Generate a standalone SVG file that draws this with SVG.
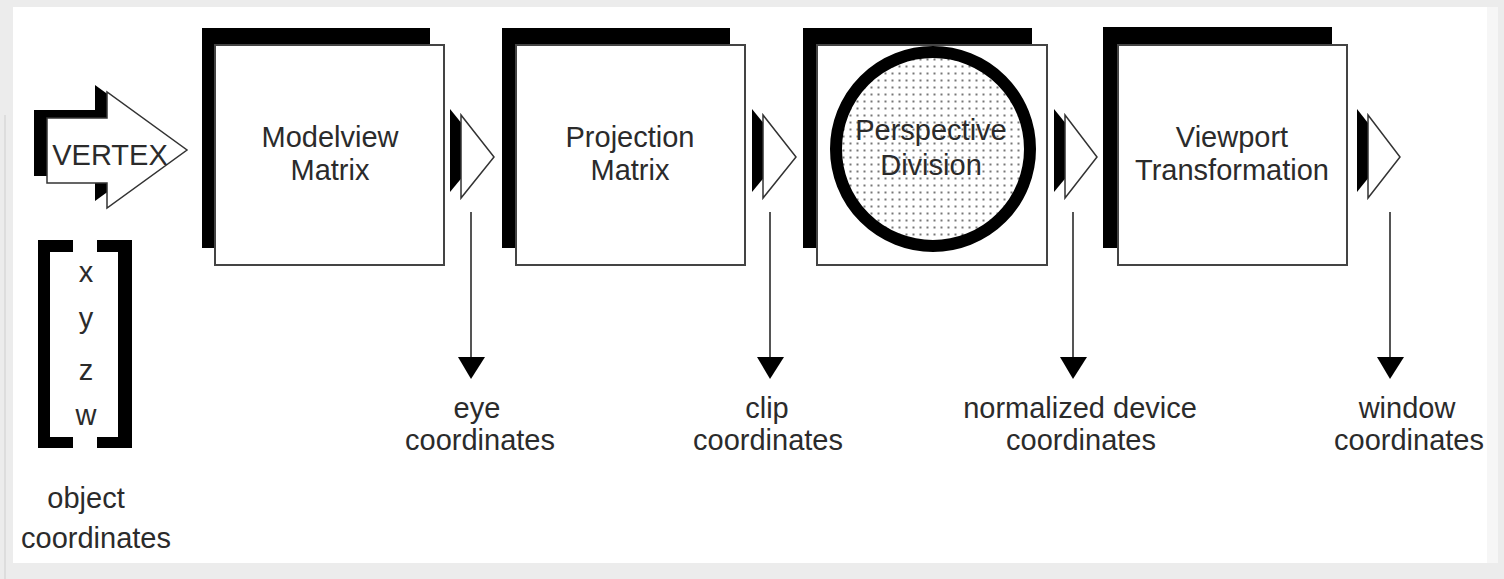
<svg xmlns="http://www.w3.org/2000/svg" width="1504" height="579" viewBox="0 0 1504 579">
  <style>
    .lbl { font-family: "Liberation Sans", Arial, sans-serif; font-size: 29px; fill: #2b2b2b; text-anchor: middle; }
    .shadow { fill: #000; }
    .front { fill: #fff; stroke: #444; stroke-width: 2; }
    .tri { fill: #fff; stroke: #333; stroke-width: 1.5; }
    .conn { stroke: #555; stroke-width: 2; fill: none; }
    .head { fill: #000; }
  </style>
  <defs>
    <pattern id="dots" width="7" height="7" patternUnits="userSpaceOnUse">
      <rect width="7" height="7" fill="#fff"/>
      <rect x="2.5" y="2.5" width="2" height="2" fill="#777"/>
    </pattern>
  </defs>

  <!-- frame -->
  <rect x="0" y="0" width="1504" height="579" fill="#ececec"/>
  <rect x="13" y="7" width="1485" height="556" fill="#ffffff"/>
  <rect x="1487" y="7" width="11" height="556" fill="#f6f6f6"/>
  <line x1="5" y1="115" x2="5" y2="579" stroke="#d8d8d8" stroke-width="1.5"/>

  <!-- VERTEX arrow -->
  <g id="vertex">
    <path class="shadow" d="M34,110 L95,110 L95,85 L175,143 L95,201 L95,176 L34,176 Z"/>
    <path class="tri" d="M47,118 L107,118 L107,92 L187,150 L107,208 L107,183 L47,183 Z"/>
    <text class="lbl" x="110" y="165" font-size="30">VERTEX</text>
  </g>

  <!-- object coordinates -->
  <g id="object">
    <path class="shadow" d="M38,240 H73 V252 H50 V437 H73 V448 H38 Z"/>
    <path class="shadow" d="M97,240 H132 V448 H97 V437 H118 V252 H97 Z"/>
    <text class="lbl" x="86" y="282" fill="#555">x</text>
    <text class="lbl" x="86" y="328" fill="#555">y</text>
    <text class="lbl" x="86" y="380" fill="#555">z</text>
    <text class="lbl" x="86" y="425" fill="#555">w</text>
    <text class="lbl" x="86" y="508">object</text>
    <text class="lbl" x="96" y="548">coordinates</text>
  </g>

  <!-- Modelview -->
  <g id="modelview">
    <rect class="shadow" x="202" y="28" width="228" height="220"/>
    <rect class="front" x="215" y="45" width="229" height="220"/>
    <text class="lbl" x="330" y="147">Modelview</text>
    <text class="lbl" x="330" y="180">Matrix</text>
  </g>

  <!-- Projection -->
  <g id="projection">
    <rect class="shadow" x="502" y="28" width="228" height="220"/>
    <rect class="front" x="516" y="45" width="229" height="220"/>
    <text class="lbl" x="630" y="147">Projection</text>
    <text class="lbl" x="630" y="180">Matrix</text>
  </g>

  <!-- Perspective -->
  <g id="perspective">
    <rect class="shadow" x="803" y="28" width="229" height="220"/>
    <rect class="front" x="817" y="45" width="230" height="220"/>
    <circle cx="933" cy="149" r="97" fill="url(#dots)" stroke="#000" stroke-width="12"/>
    <text class="lbl" x="931" y="140">Perspective</text>
    <text class="lbl" x="931" y="175">Division</text>
  </g>

  <!-- Viewport -->
  <g id="viewport">
    <rect class="shadow" x="1103" y="27" width="229" height="221"/>
    <rect class="front" x="1118" y="45" width="229" height="220"/>
    <text class="lbl" x="1232" y="147">Viewport</text>
    <text class="lbl" x="1232" y="180">Transformation</text>
  </g>

  <!-- small flow triangles -->
  <g id="flow1">
    <path class="shadow" d="M450,109 L450,192 L484,151 Z"/>
    <path class="tri" d="M461,115 L461,198 L494,157 Z"/>
  </g>
  <g id="flow2">
    <path class="shadow" d="M752,109 L752,192 L786,151 Z"/>
    <path class="tri" d="M763,115 L763,198 L796,157 Z"/>
  </g>
  <g id="flow3">
    <path class="shadow" d="M1054,109 L1054,192 L1088,151 Z"/>
    <path class="tri" d="M1065,115 L1065,198 L1097,157 Z"/>
  </g>
  <g id="flow4">
    <path class="shadow" d="M1357,109 L1357,192 L1390,151 Z"/>
    <path class="tri" d="M1368,115 L1368,198 L1400,157 Z"/>
  </g>

  <!-- connectors -->
  <g id="connectors">
    <line class="conn" x1="471" y1="212" x2="471" y2="358"/>
    <path class="head" d="M458,357 L485,357 L471,379 Z"/>
    <line class="conn" x1="770" y1="212" x2="770" y2="358"/>
    <path class="head" d="M757,357 L784,357 L770,379 Z"/>
    <line class="conn" x1="1073" y1="212" x2="1073" y2="358"/>
    <path class="head" d="M1060,357 L1087,357 L1073,379 Z"/>
    <line class="conn" x1="1390" y1="212" x2="1390" y2="358"/>
    <path class="head" d="M1377,357 L1404,357 L1390,379 Z"/>
  </g>

  <!-- output labels -->
  <g id="labels">
    <text class="lbl" x="477" y="418">eye</text>
    <text class="lbl" x="480" y="450">coordinates</text>
    <text class="lbl" x="767" y="418">clip</text>
    <text class="lbl" x="768" y="450">coordinates</text>
    <text class="lbl" x="1080" y="418">normalized device</text>
    <text class="lbl" x="1081" y="450">coordinates</text>
    <text class="lbl" x="1407" y="418">window</text>
    <text class="lbl" x="1409" y="450">coordinates</text>
  </g>
</svg>
